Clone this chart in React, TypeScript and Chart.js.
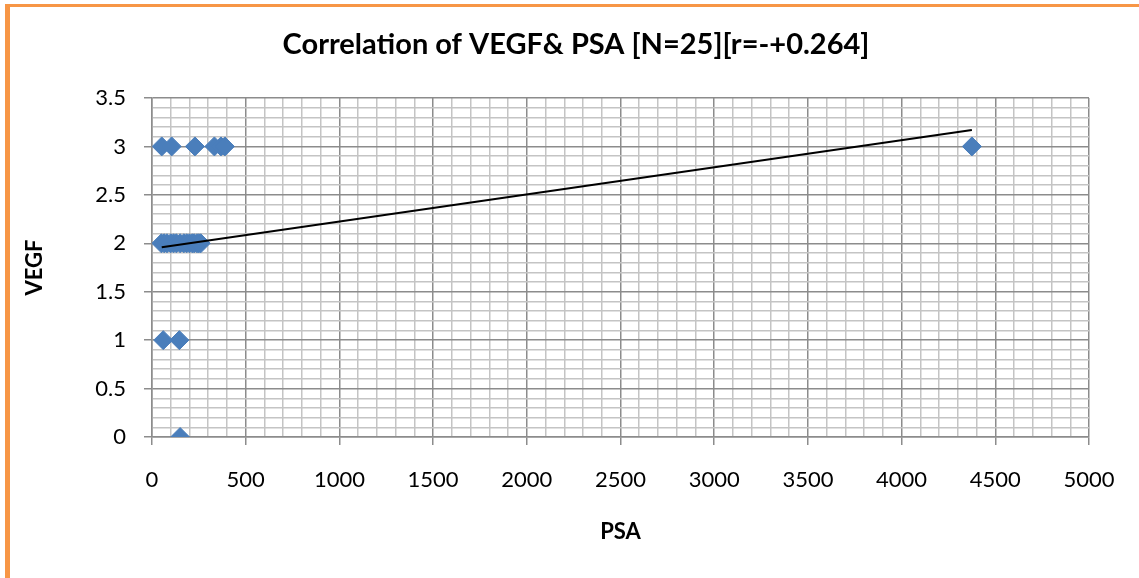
import React, { useEffect, useRef } from "react";
import { Chart, registerables } from "chart.js";

Chart.register(...registerables);

const TITLE = "Correlation of VEGF& PSA [N=25][r=-+0.264]";
const X_TITLE = "PSA";
const Y_TITLE = "VEGF";

// Observations (PSA, VEGF)
const psaValues = [
  52, 105, 229, 333, 368, 389, 4375,
  50, 65, 80, 100, 115, 130, 150, 170, 185, 200, 215, 225, 240, 250, 260,
  60, 146,
  150,
];
const vegfValues = [
  3, 3, 3, 3, 3, 3, 3,
  2, 2, 2, 2, 2, 2, 2, 2, 2, 2, 2, 2, 2, 2, 2,
  1, 1,
  0,
];

// Linear trendline end points
const trendPsa = [52, 4375];
const trendVegf = [1.96, 3.17];

const xTickLabels = ["0", "500", "1000", "1500", "2000", "2500", "3000", "3500", "4000", "4500", "5000"];
const yTickLabels = ["0", "0.5", "1", "1.5", "2", "2.5", "3", "3.5"];

const FONT = "Lato, 'Noto Sans', sans-serif";

export default function App() {
  const ref = useRef<HTMLCanvasElement | null>(null);

  useEffect(() => {
    const canvas = ref.current;
    if (!canvas) return;

    const isMajorX = (v: number) => Math.round(v) % 500 === 0;
    const isMajorY = (v: number) => Math.round(v * 10) % 5 === 0;

    const frame = {
      id: "frameAndTitle",
      beforeDraw(chart: any) {
        const c = chart.ctx;
        c.save();
        c.fillStyle = "#ffffff";
        c.fillRect(0, 0, chart.width, chart.height);
        c.fillStyle = "#f79646";
        c.fillRect(5, 4, chart.width - 5, 3);
        c.fillRect(5, 4, 5, chart.height - 4);
        c.restore();
      },
      afterDraw(chart: any) {
        const c = chart.ctx;
        c.save();
        c.fillStyle = "#000000";
        c.font = `bold 29px ${FONT}`;
        c.textAlign = "center";
        c.textBaseline = "middle";
        c.fillText(TITLE, 576, 45);
        c.restore();
      },
    };

    const chart = new Chart(canvas, {
      type: "scatter",
      data: {
        datasets: [
          {
            label: "Trend",
            data: trendPsa.map((x, i) => ({ x, y: trendVegf[i] })),
            showLine: true,
            borderColor: "#000000",
            borderWidth: 2,
            pointRadius: 0,
            order: 0,
          },
          {
            label: "VEGF",
            data: psaValues.map((x, i) => ({ x, y: vegfValues[i] })),
            pointStyle: "rectRot",
            pointRadius: 9.5,
            backgroundColor: "#4a7ebb",
            borderColor: "#4a7ebb",
            borderWidth: 1,
            order: 1,
          },
        ],
      },
      options: {
        responsive: false,
        animation: false,
        devicePixelRatio: 1,
        layout: { padding: { top: 98, right: 50, left: 0, bottom: 0 } },
        plugins: {
          legend: { display: false },
          tooltip: { enabled: false },
          title: { display: false },
        },
        scales: {
          x: {
            type: "linear",
            min: 0,
            max: 5000,
            afterFit: (s: any) => {
              s.height = 141;
            },
            ticks: {
              stepSize: 100,
              autoSkip: false,
              maxRotation: 0,
              maxTicksLimit: 1000,
              padding: 22,
              color: "#000000",
              font: { family: FONT, size: 22 },
              callback: (v: any) => {
                const n = Number(v);
                if (!isMajorX(n)) return "";
                return xTickLabels[Math.round(n / 500)];
              },
            },
            grid: {
              color: (ctx: any) => (ctx.tick && isMajorX(ctx.tick.value) ? "#8c8c8c" : "#c4c4c4"),
              tickColor: (ctx: any) => (ctx.tick && isMajorX(ctx.tick.value) ? "#8c8c8c" : "rgba(0,0,0,0)"),
              lineWidth: 1.5,
              tickLength: 8,
            },
            border: { color: "#8c8c8c", width: 1.5 },
            title: {
              display: true,
              text: X_TITLE,
              color: "#000000",
              font: { family: FONT, size: 22, weight: "bold" },
              padding: { top: 0, bottom: 33 },
            },
          },
          y: {
            type: "linear",
            min: 0,
            max: 3.5,
            afterFit: (s: any) => {
              s.width = 152;
            },
            ticks: {
              stepSize: 0.1,
              autoSkip: false,
              maxTicksLimit: 1000,
              padding: 18,
              color: "#000000",
              font: { family: FONT, size: 22 },
              callback: (v: any) => {
                const n = Number(v);
                if (!isMajorY(n)) return "";
                return yTickLabels[Math.round(n * 2)];
              },
            },
            grid: {
              color: (ctx: any) => (ctx.tick && isMajorY(ctx.tick.value) ? "#8c8c8c" : "#c4c4c4"),
              tickColor: (ctx: any) => (ctx.tick && isMajorY(ctx.tick.value) ? "#8c8c8c" : "rgba(0,0,0,0)"),
              lineWidth: 1.5,
              tickLength: 8,
            },
            border: { color: "#8c8c8c", width: 1.5 },
            title: {
              display: true,
              text: Y_TITLE,
              color: "#000000",
              font: { family: FONT, size: 22, weight: "bold" },
              padding: { top: 22, bottom: 0 },
            },
          },
        },
      },
      plugins: [frame],
    } as any);

    return () => chart.destroy();
  }, []);

  return (
    <div style={{ position: "fixed", left: 0, top: 0, width: 1139, height: 578, background: "#fff" }}>
      <canvas ref={ref} width={1139} height={578} style={{ display: "block", width: 1139, height: 578 }} />
    </div>
  );
}
